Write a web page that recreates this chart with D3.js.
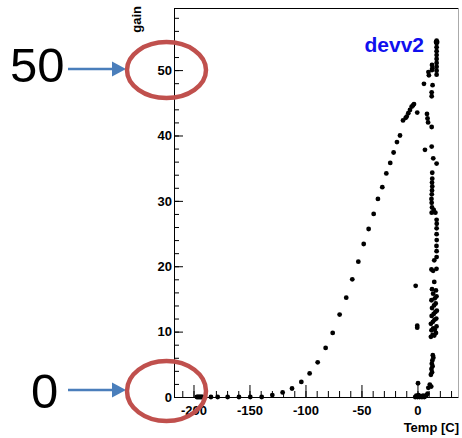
<!DOCTYPE html>
<html>
<head>
<meta charset="utf-8">
<script src="https://cdn.jsdelivr.net/npm/d3@7"></script>
<style>
  html, body { margin: 0; padding: 0; background: #fff; }
  svg { display: block; }
  .axis text { font-family: "Liberation Sans", Arial, sans-serif; font-weight: bold; font-size: 13px; fill: #000; }
  .axis path, .axis line { stroke: #000; }
</style>
</head>
<body>
<svg id="chart" width="462" height="438"></svg>
<script>
// Gain vs. temperature: cool-down sweep
const sweepTemp = [-197, -196, -195, -194, -193, -192, -184.4, -178.4, -169.5, -159.4, -149.3, -139.1,
  -129.6, -120.4, -112, -103.7, -96.3, -89.1, -82, -75.7, -69.5, -63.6, -58.2, -52.8, -48, -43.6,
  -39.1, -35.3, -31.4, -27.8, -24.3, -21.3, -18.3, -15.6, -12.9, -10.5, -9.6, -8.2, -6.7, -5.2, -4, -3.1];
const sweepGain = [0, 0, 0, 0, 0, 0, 0, 0, 0, 0, 0, 0,
  0.3, 0.7, 1.3, 2.3, 3.6, 5.3, 7.5, 9.8, 12.6, 15.2, 18, 20.7, 23.4, 25.7,
  28, 30.3, 32.1, 34.2, 35.8, 37.4, 39, 40, 42.3, 42.7, 42.9, 43.4, 43.9, 44.4, 44.6, 44.8];

// Gain vs. temperature: warm operation near room temperature
const warmTemp = [-2, -1, 0, 1, 2, 3, 4, 5, 6, 7, 8, 9,
  0.5, 9.7, 11, 12.3,
  12, 13, 12.5, 13.5, 12.8, 13.3, 14.2, 13.7,
  -0.2, -0.2, -1.6,
  12, 13.5, 15, 16.5, 12.5, 14, 15.5, 17, 12, 13.8, 15.2, 16.8, 12.7, 14.5, 16, 17.3, 13, 14.8, 16.3,
  12.5, 15.5, 17, 14, 16.5, 13,
  15, 12.5, 14, 17,
  15, 17.1, 17.1, 17, 17.2, 17.1, 17.1, 17.2, 17.1,
  12.7, 13, 12.7, 12.5, 12.8, 13, 13.2, 13, 13.2, 14.5, 16,
  13.2, 17.1, 14.1, 12.7, 6.7, 12.7, 8.5, 9, 9.5, -0.2,
  12.7, 12.7, 5.8, 13.5, 9.8, 10.2, 13, 13.3, 13,
  17.1, 17.1, 17.1, 17.1, 17.1, 17.1, 17.1, 17.1, 17.1, 17.1, 16.6, 17.6];
const warmGain = [0, 0.2, 0, 0.3, 0, 0.1, 0, 0.2, 0, 0.1, 0.3, 0.5,
  2.1, 1.4, 1.9, 1.6,
  3.4, 3.8, 4.3, 4.7, 5.1, 5.6, 6, 6.4,
  10.9, 10.6, 17,
  9.2, 9.5, 9.4, 9.8, 10.2, 10.5, 10.3, 10.8, 11.2, 11.5, 11.8, 12, 12.4, 12.7, 13, 13.2, 13.6, 14, 14.3,
  14.8, 15.1, 15.4, 15.8, 16.3, 16.5,
  17.6, 19.5, 19.3, 19.6,
  20.9, 21.4, 22.3, 23.1, 24, 24.9, 25.8, 26.5, 27.1,
  28.2, 29, 29.7, 30.3, 31, 31.6, 32.2, 32.8, 33.4, 28.6, 28.2,
  34.3, 35.7, 36.5, 38.3, 37.8, 41.3, 43.3, 42.6, 42, 43.5,
  46.6, 46, 47.9, 47.7, 49.7, 49.2, 50.8, 50.3, 50,
  49.3, 49.9, 50.5, 51.1, 51.7, 52.3, 52.9, 53.5, 54.1, 54.5, 54.3, 54.3];

// Axis ticks
const xMajorTicks = [-200, -150, -100, -50, 0];
const xMinorTicks = d3.range(-210, 31, 10);
const yMajorTicks = [0, 10, 20, 30, 40, 50];
const yMinorTicks = d3.range(0, 59, 2);

// Highlighted gain levels
const calloutValues = [50, 0];
const calloutLabels = ["50", "0"];

const svg = d3.select("#chart");
const x = d3.scaleLinear().domain([-217.4, 36.2]).range([174, 458]);
const y = d3.scaleLinear().domain([0, 59.5]).range([397, 8]);
const fmt = d => String(d);

// frame (top and right edges)
svg.append("line").attr("x1", 174).attr("x2", 458.5).attr("y1", 8.5).attr("y2", 8.5)
  .attr("stroke", "#000");
svg.append("line").attr("x1", 458.5).attr("x2", 458.5).attr("y1", 8.5).attr("y2", 397)
  .attr("stroke", "#aaa");

// x axis
svg.append("g").attr("class", "axis").attr("transform", "translate(0,397)")
  .call(d3.axisBottom(x).tickValues(xMinorTicks).tickSize(-6).tickSizeOuter(0).tickFormat(""));
svg.append("g").attr("class", "axis").attr("transform", "translate(0,397)")
  .call(d3.axisBottom(x).tickValues(xMajorTicks).tickSize(-12).tickSizeOuter(0).tickPadding(9).tickFormat(fmt))
  .call(g => g.select(".domain").remove());

// y axis
svg.append("g").attr("class", "axis").attr("transform", "translate(174,0)")
  .call(d3.axisLeft(y).tickValues(yMinorTicks).tickSize(-5).tickSizeOuter(0).tickFormat(""));
svg.append("g").attr("class", "axis").attr("transform", "translate(174,0)")
  .call(d3.axisLeft(y).tickValues(yMajorTicks).tickSize(-9).tickSizeOuter(0).tickPadding(2).tickFormat(fmt))
  .call(g => g.select(".domain").remove());

// axis titles
svg.append("text").attr("x", 459).attr("y", 432).attr("text-anchor", "end")
  .attr("font-family", "Liberation Sans, Arial, sans-serif").attr("font-weight", "bold")
  .attr("font-size", 13).text("Temp [C]");
svg.append("text").attr("transform", "translate(141,6) rotate(-90)").attr("text-anchor", "end")
  .attr("font-family", "Liberation Sans, Arial, sans-serif").attr("font-weight", "bold")
  .attr("font-size", 13).text("gain");

// graph title
svg.append("text").attr("x", 424).attr("y", 52).attr("text-anchor", "end")
  .attr("font-family", "Liberation Sans, Arial, sans-serif").attr("font-weight", "bold")
  .attr("font-size", 21).attr("fill", "#1010ee").text("devv2");

// markers
const points = sweepTemp.map((t, i) => [t, sweepGain[i]])
  .concat(warmTemp.map((t, i) => [t, warmGain[i]]));
svg.append("g").selectAll("circle").data(points).join("circle")
  .attr("cx", d => x(d[0])).attr("cy", d => y(d[1])).attr("r", 2.4).attr("fill", "#000");

// callouts: large label, arrow and ring around the tick label
const callouts = calloutValues.map((v, i) => ({ v, label: calloutLabels[i], cy: y(v) - (v === 0 ? 6 : 0) }));
const co = svg.append("g");
callouts.forEach(c => {
  co.append("text").attr("x", c.label.length > 1 ? 10 : 31).attr("y", c.cy + 12 + (c.v === 0 ? 5 : 0))
    .attr("font-family", "Liberation Sans, Arial, sans-serif").attr("font-size", 49)
    .attr("fill", "#000").text(c.label);
  const ay = c.cy - 1;
  co.append("line").attr("x1", 68).attr("x2", 114).attr("y1", ay).attr("y2", ay)
    .attr("stroke", "#4a7ebb").attr("stroke-width", 2.5);
  co.append("path").attr("d", `M112,${ay - 7.5}L126,${ay}L112,${ay + 7.5}Z`).attr("fill", "#4a7ebb");
  co.append("ellipse").attr("cx", 166.5).attr("cy", c.cy).attr("rx", 39.5).attr("ry", c.v === 0 ? 30 : 28)
    .attr("fill", "none").attr("stroke", "#c0504d").attr("stroke-width", 4.5);
});
</script>
</body>
</html>
